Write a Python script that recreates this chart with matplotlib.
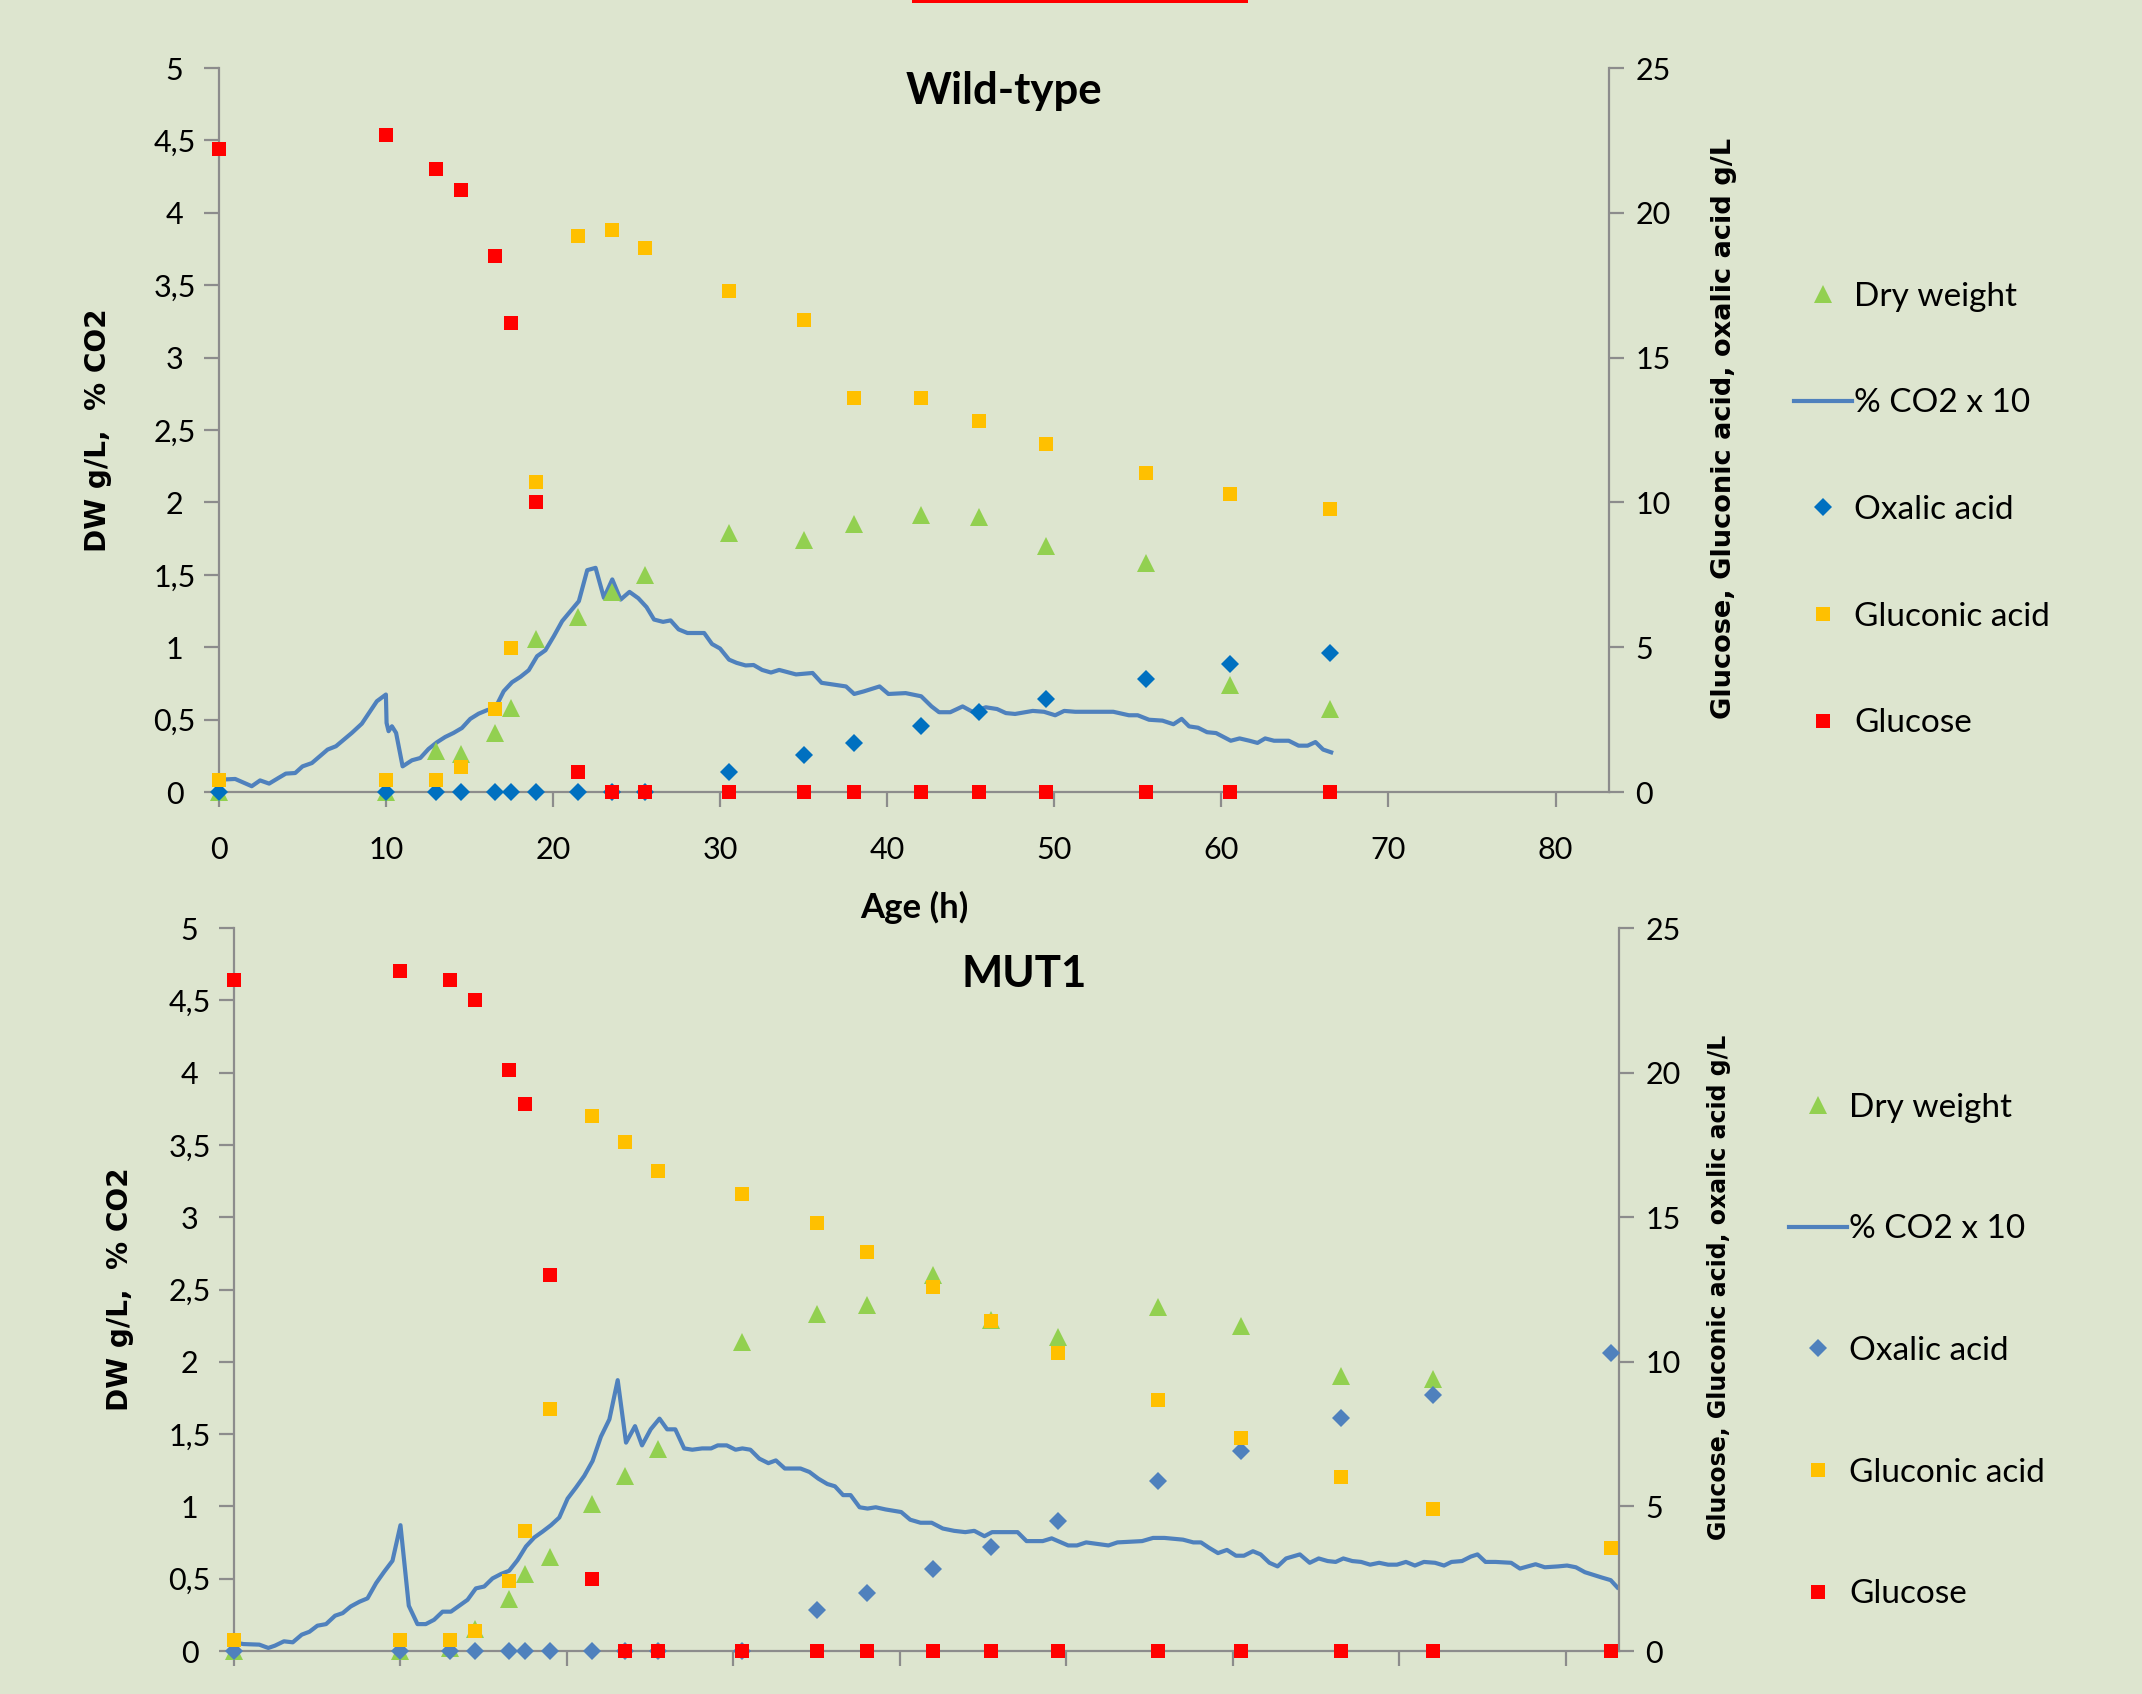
import sys

import numpy as np
from matplotlib import pyplot as plt
from matplotlib.lines import Line2D
from matplotlib.patches import Rectangle
from matplotlib.ticker import FuncFormatter, MultipleLocator

plt.rcParams['font.family'] = ['Lato', 'DejaVu Sans']

W, H = 2142, 1694

BG = '#dde5cf'
SPINE = '#8c8c8c'
GREEN = '#92d050'
LINE_BLUE = '#4f81bd'
RED = '#ff0000'
GOLD = '#ffc000'

#######################################################
# Wild-type: sampling times (h), DW and CO2 on left axis, acids on right axis (g/L)

wt_time = [0, 10, 13, 14.5, 16.5, 17.5, 19, 21.5, 23.5, 25.5,
           30.5, 35, 38, 42, 45.5, 49.5, 55.5, 60.5, 66.5]
wt_dry_weight = [0, 0, 0.28, 0.26, 0.41, 0.58, 1.06, 1.21, 1.38, 1.50,
                 1.79, 1.74, 1.85, 1.91, 1.90, 1.70, 1.58, 0.74, 0.57]
wt_oxalic = [0, 0, 0, 0, 0, 0, 0, 0, 0, 0,
             0.69, 1.29, 1.68, 2.28, 2.76, 3.21, 3.91, 4.43, 4.80]
wt_gluconic = [0.42, 0.42, 0.42, 0.88, 2.85, 4.98, 10.7, 19.2, 19.4, 18.8,
               17.3, 16.3, 13.6, 13.6, 12.8, 12.0, 11.0, 10.3, 9.76]
wt_glucose = [22.2, 22.7, 21.5, 20.8, 18.5, 16.2, 10.0, 0.68, 0, 0,
              0, 0, 0, 0, 0, 0, 0, 0, 0]

wt_co2_time = [0, 0.97, 1.96, 2.46, 3.0, 3.56, 4.0, 4.56, 5.0, 5.56,
               6.5, 7.0, 7.95, 8.55, 9.45, 9.99, 10.03, 10.15, 10.35, 10.6,
               10.99, 11.55, 12.05, 12.54, 13.04, 13.54, 14.04, 14.54, 15.04, 15.54,
               16.04, 16.54, 17.04, 17.54, 18.04, 18.54, 19.04, 19.54, 20.04, 20.54,
               21.04, 21.54, 22.04, 22.54, 23.04, 23.54, 24.04, 24.57, 25.1, 25.59,
               26.04, 26.58, 27.03, 27.51, 28.04, 29.04, 29.51, 29.99, 30.53, 30.98,
               31.52, 32.0, 32.51, 33.04, 33.53, 34.54, 35.53, 36.07, 37.53, 38.02,
               38.6, 39.54, 40.07, 41.1, 42.03, 42.65, 43.1, 43.77, 44.51, 45.1,
               45.9, 46.57, 47.1, 47.65, 48.71, 49.38, 50.05, 50.59, 51.25, 53.53,
               54.46, 54.99, 55.67, 56.47, 57.13, 57.62, 58.07, 58.6, 59.14, 59.68,
               60.56, 61.09, 61.68, 62.16, 62.62, 63.15, 64.03, 64.62, 65.16, 65.63,
               66.09, 66.57]
wt_co2 = [0.085, 0.09, 0.04, 0.08, 0.058, 0.097, 0.127, 0.131, 0.177, 0.20,
          0.293, 0.316, 0.408, 0.472, 0.627, 0.673, 0.477, 0.42, 0.454, 0.408,
          0.177, 0.219, 0.235, 0.297, 0.343, 0.38, 0.408, 0.442, 0.505, 0.541,
          0.565, 0.581, 0.696, 0.758, 0.795, 0.841, 0.938, 0.979, 1.076, 1.18,
          1.249, 1.318, 1.532, 1.548, 1.341, 1.468, 1.329, 1.382, 1.338, 1.277,
          1.191, 1.175, 1.185, 1.123, 1.098, 1.098, 1.022, 0.991, 0.914, 0.892,
          0.874, 0.877, 0.843, 0.825, 0.843, 0.812, 0.822, 0.754, 0.729, 0.677,
          0.695, 0.729, 0.677, 0.683, 0.661, 0.591, 0.551, 0.551, 0.591, 0.554,
          0.585, 0.573, 0.545, 0.539, 0.56, 0.554, 0.53, 0.56, 0.554, 0.554,
          0.53, 0.53, 0.499, 0.493, 0.468, 0.505, 0.453, 0.444, 0.413, 0.407,
          0.354, 0.37, 0.354, 0.339, 0.37, 0.354, 0.354, 0.32, 0.32, 0.345,
          0.293, 0.274]

#######################################################
# MUT1

mut_time = [0, 10, 13, 14.5, 16.5, 17.5, 19, 21.5, 23.5, 25.5,
            30.5, 35, 38, 42, 45.5, 49.5, 55.5, 60.5, 66.5, 72, 82.7]
mut_dry_weight = [0, 0, 0.02, 0.15, 0.36, 0.53, 0.65, 1.02, 1.21, 1.40,
                  2.14, 2.33, 2.39, 2.60, 2.29, 2.17, 2.38, 2.25, 1.90, 1.88, np.nan]
mut_oxalic = [0, 0, 0, 0, 0, 0, 0, 0, 0, 0,
              0, 1.43, 2.0, 2.82, 3.6, 4.48, 5.88, 6.93, 8.05, 8.85, 10.3]
mut_gluconic = [0.38, 0.38, 0.38, 0.69, 2.42, 4.16, 8.36, 18.5, 17.6, 16.6,
                15.8, 14.8, 13.8, 12.6, 11.4, 10.3, 8.67, 7.37, 6.02, 4.9, 3.57]
mut_glucose = [23.2, 23.5, 23.2, 22.5, 20.1, 18.9, 13.0, 2.5, 0, 0,
               0, 0, 0, 0, 0, 0, 0, 0, 0, 0, 0]

mut_co2_time = [0, 0.56, 1.52, 2.06, 2.46, 3.0, 3.53, 4.07, 4.53, 5.01,
                5.53, 6.07, 6.53, 7.01, 7.54, 8.02, 8.54, 9.02, 9.52, 10.0,
                10.5, 11.02, 11.52, 12.02, 12.53, 13.03, 13.53, 14.03, 14.53, 15.03,
                15.53, 16.03, 16.53, 17.03, 17.54, 18.04, 18.54, 19.04, 19.54, 20.04,
                20.54, 21.04, 21.54, 22.04, 22.55, 23.05, 23.55, 24.09, 24.51, 25.03,
                25.56, 26.02, 26.51, 27.04, 27.53, 28.12, 28.66, 29.06, 29.6, 30.13,
                30.54, 31.02, 31.56, 32.1, 32.55, 33.09, 34.03, 34.57, 35.1, 35.64,
                36.1, 36.59, 37.04, 37.58, 38.06, 38.55, 39.14, 40.08, 40.62, 41.24,
                41.91, 42.58, 43.26, 43.93, 44.47, 45.08, 45.54, 47.07, 47.61, 48.58,
                49.12, 50.11, 50.64, 51.19, 52.53, 53.07, 54.55, 55.21, 55.89, 57.01,
                57.63, 58.09, 58.57, 59.11, 59.65, 60.19, 60.67, 61.21, 61.67, 62.2,
                62.69, 63.2, 64.03, 64.62, 65.16, 65.7, 66.18, 66.64, 67.18, 67.71,
                68.25, 68.79, 69.33, 69.86, 70.4, 70.94, 71.48, 72.15, 72.69, 73.14,
                73.77, 74.3, 74.7, 75.18, 75.78, 76.72, 77.25, 78.19, 78.74, 79.54,
                80.08, 80.61, 81.15, 82.17, 82.7, 83.1]
mut_co2 = [0.06, 0.048, 0.044, 0.021, 0.037, 0.067, 0.06, 0.113, 0.133, 0.175,
           0.186, 0.244, 0.262, 0.308, 0.341, 0.364, 0.47, 0.548, 0.624, 0.87,
           0.313, 0.186, 0.186, 0.216, 0.272, 0.272, 0.313, 0.354, 0.433, 0.446,
           0.502, 0.532, 0.555, 0.628, 0.723, 0.785, 0.826, 0.87, 0.923, 1.054,
           1.13, 1.211, 1.314, 1.482, 1.602, 1.873, 1.441, 1.555, 1.422, 1.533,
           1.607, 1.533, 1.533, 1.401, 1.392, 1.401, 1.401, 1.422, 1.422, 1.392,
           1.401, 1.392, 1.33, 1.299, 1.318, 1.262, 1.262, 1.238, 1.192, 1.155,
           1.139, 1.078, 1.078, 0.994, 0.985, 0.994, 0.979, 0.961, 0.908, 0.887,
           0.887, 0.847, 0.831, 0.822, 0.831, 0.794, 0.822, 0.822, 0.76, 0.76,
           0.779, 0.73, 0.73, 0.751, 0.73, 0.751, 0.76, 0.782, 0.782, 0.77,
           0.751, 0.751, 0.714, 0.677, 0.699, 0.659, 0.659, 0.69, 0.668, 0.61,
           0.585, 0.64, 0.668, 0.61, 0.64, 0.622, 0.616, 0.64, 0.622, 0.616,
           0.597, 0.61, 0.597, 0.597, 0.616, 0.591, 0.616, 0.61, 0.591, 0.616,
           0.622, 0.653, 0.668, 0.616, 0.616, 0.61, 0.57, 0.6, 0.579, 0.585,
           0.591, 0.579, 0.545, 0.508, 0.49, 0.44]

legend_labels = ['Dry weight', '% CO2 x 10', 'Oxalic acid', 'Gluconic acid', 'Glucose']

#######################################################


def comma(v, pos):
    return '{:g}'.format(v).replace('.', ',')


def style_axes(ax, axr, show_xlabels):
    for ax_ in (ax, axr):
        ax_.patch.set_alpha(0.0)
        for s in ax_.spines.values():
            s.set_color(SPINE)
            s.set_linewidth(1.6)
    ax.spines['top'].set_visible(False)
    ax.spines['right'].set_visible(False)
    for s in ('top', 'left', 'bottom'):
        axr.spines[s].set_visible(False)

    ax.set_xlim(0, 83.2)
    ax.set_ylim(0, 5)
    axr.set_ylim(0, 25)

    ax.xaxis.set_major_locator(MultipleLocator(10))
    ax.yaxis.set_major_locator(MultipleLocator(0.5))
    axr.yaxis.set_major_locator(MultipleLocator(5))
    ax.yaxis.set_major_formatter(FuncFormatter(comma))
    axr.yaxis.set_major_formatter(FuncFormatter(comma))

    ax.tick_params(axis='y', direction='out', length=11, width=1.6, color=SPINE,
                   pad=21, labelsize=22)
    for lab in ax.get_yticklabels():
        lab.set_horizontalalignment('center')
    axr.tick_params(axis='y', direction='out', length=11, width=1.6, color=SPINE,
                    pad=8, labelsize=22)
    ax.tick_params(axis='x', direction='out', length=11, width=1.6, color=SPINE,
                   pad=21, labelsize=22, labelbottom=show_xlabels)


def draw_panel(ax, t, dw, co2_t, co2, ox, gluconic, glucose, ox_color):
    axr = ax.twinx()

    ax.plot(co2_t, co2, color=LINE_BLUE, linewidth=3.0, zorder=2)
    ax.plot(t, dw, linestyle='none', marker='^', markersize=13,
            color=GREEN, markeredgewidth=0, clip_on=False, zorder=3)

    axr.plot(t, ox, linestyle='none', marker='D', markersize=9.2,
             color=ox_color, markeredgewidth=0, clip_on=False, zorder=3)
    axr.plot(t, gluconic, linestyle='none', marker='s', markersize=10,
             color=GOLD, markeredgewidth=0, clip_on=False, zorder=4)
    axr.plot(t, glucose, linestyle='none', marker='s', markersize=10,
             color=RED, markeredgewidth=0, clip_on=False, zorder=5)

    return axr


def legend_handles(ox_color):
    return [
        Line2D([], [], linestyle='none', marker='^', markersize=13, color=GREEN, markeredgewidth=0),
        Line2D([], [], color=LINE_BLUE, linewidth=3.0),
        Line2D([], [], linestyle='none', marker='D', markersize=9.2, color=ox_color, markeredgewidth=0),
        Line2D([], [], linestyle='none', marker='s', markersize=10, color=GOLD, markeredgewidth=0),
        Line2D([], [], linestyle='none', marker='s', markersize=10, color=RED, markeredgewidth=0),
    ]

#######################################################


def main():

    fig = plt.figure(figsize=(W / 100, H / 100), dpi=100)
    fig.patch.set_facecolor(BG)

    # red bar cut off at the top of the slide
    fig.add_artist(Rectangle((912 / W, 1 - 3 / H), 336 / W, 3 / H,
                             transform=fig.transFigure, color=RED, linewidth=0))

    # Wild-type
    ax1 = fig.add_axes([219 / W, 1 - 792 / H, 1390 / W, 724 / H])
    ax1r = draw_panel(ax1, wt_time, wt_dry_weight, wt_co2_time, wt_co2,
                      wt_oxalic, wt_gluconic, wt_glucose, '#0070c0')
    style_axes(ax1, ax1r, True)

    fig.text(1004 / W, 1 - 91 / H, 'Wild-type', ha='center', va='center',
             fontsize=31.5, fontweight='bold')
    fig.text(914 / W, 1 - 907 / H, 'Age (h)', ha='center', va='center',
             fontsize=25, fontweight='bold')
    fig.text(98 / W, 1 - 430 / H, 'DW g/L,  % CO2', rotation=90, ha='center', va='center',
             fontsize=20.2, fontweight='bold', family='DejaVu Sans')
    fig.text(1724 / W, 1 - 428 / H, 'Glucose, Gluconic acid, oxalic acid g/L', rotation=90,
             ha='center', va='center', fontsize=19.6, fontweight='bold', family='DejaVu Sans')

    fig.legend(legend_handles('#0070c0'), legend_labels, loc='center left',
               bbox_to_anchor=(1794 / W, 1 - 510 / H), frameon=False, fontsize=24,
               labelspacing=2.3, handlelength=1.75, handletextpad=0.05,
               borderpad=0, borderaxespad=0, numpoints=1)

    # MUT1
    ax2 = fig.add_axes([234 / W, 1 - 1651 / H, 1385 / W, 723 / H])
    ax2r = draw_panel(ax2, mut_time, mut_dry_weight, mut_co2_time, mut_co2,
                      mut_oxalic, mut_gluconic, mut_glucose, '#4f81bd')
    style_axes(ax2, ax2r, False)

    fig.text(1024 / W, 1 - 974 / H, 'MUT1', ha='center', va='center',
             fontsize=31.5, fontweight='bold')
    fig.text(120 / W, 1 - 1289 / H, 'DW g/L,  % CO2', rotation=90, ha='center', va='center',
             fontsize=20.2, fontweight='bold', family='DejaVu Sans')
    fig.text(1719 / W, 1 - 1287 / H, 'Glucose, Gluconic acid, oxalic acid g/L', rotation=90,
             ha='center', va='center', fontsize=17, fontweight='bold', family='DejaVu Sans')

    fig.legend(legend_handles('#4f81bd'), legend_labels, loc='center left',
               bbox_to_anchor=(1789 / W, 1 - 1351 / H), frameon=False, fontsize=24,
               labelspacing=2.75, handlelength=1.75, handletextpad=0.05,
               borderpad=0, borderaxespad=0, numpoints=1)

    fig.savefig('out.png', dpi=100, facecolor=BG)


#######################################################

if __name__ == '__main__':
    sys.exit(main())
